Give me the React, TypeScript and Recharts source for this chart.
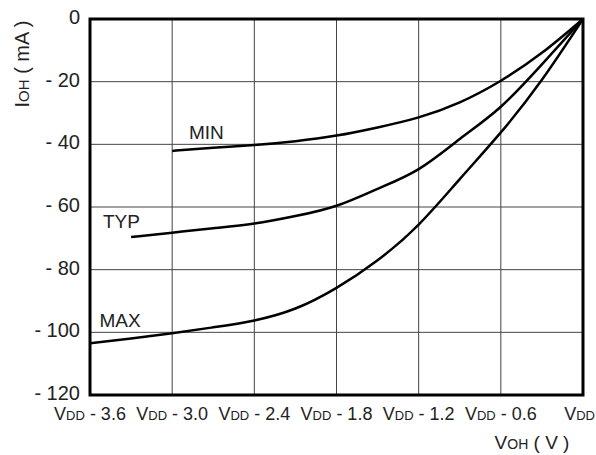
import React from 'react';
import { LineChart, Line, XAxis, YAxis, CartesianGrid, ReferenceArea, ReferenceDot } from 'recharts';

const voltages = [-3.6, -3.3, -3.0, -2.7, -2.4, -2.1, -1.8, -1.5, -1.2, -0.9, -0.6, -0.3, 0];
const minCurrent = [null, null, -42.1, -41.1, -40.2, -39.0, -37.2, -34.6, -31.4, -26.6, -19.7, -10.8, 0];
const typCurrent = [null, -69.6, -68.2, -66.8, -65.3, -62.9, -59.6, -54.2, -47.9, -38.3, -28.0, -14.5, 0];
const maxCurrent = [-103.5, -102.0, -100.3, -98.4, -96.2, -92.4, -85.8, -77.0, -65.6, -51.1, -36.2, -19.4, 0];

const xTicks = [-3.6, -3.0, -2.4, -1.8, -1.2, -0.6, 0];
const xTickSuffix = [' - 3.6', ' - 3.0', ' - 2.4', ' - 1.8', ' - 1.2', ' - 0.6', ''];
const yTicks = [0, -20, -40, -60, -80, -100, -120];
const yTickLabels = ['0', '- 20', '- 40', '- 60', '- 80', '- 100', '- 120'];

const seriesLabels = [
  { name: 'MIN', v: -2.75, i: -36 },
  { name: 'TYP', v: -3.37, i: -64.4 },
  { name: 'MAX', v: -3.38, i: -96 },
];

const data = voltages.map((v, k) => ({
  v,
  min: minCurrent[k],
  typ: typCurrent[k],
  max: maxCurrent[k],
}));

const FONT = 'Liberation Sans, Arial, Helvetica, sans-serif';
const COLOR = '#222';

const XTick = (props: any) => {
  const { x, y, payload } = props;
  const idx = xTicks.findIndex((t) => Math.abs(t - payload.value) < 1e-6);
  const last = idx === xTicks.length - 1;
  return (
    <text x={last ? 595 : x} y={y + 25} textAnchor={last ? 'end' : 'middle'} fontFamily={FONT} fontSize={18} fill={COLOR}>
      <tspan>V</tspan>
      <tspan fontSize={13}>DD</tspan>
      <tspan>{xTickSuffix[idx]}</tspan>
    </text>
  );
};

const YTick = (props: any) => {
  const { x, y, payload } = props;
  const idx = yTicks.findIndex((t) => Math.abs(t - payload.value) < 1e-6);
  return (
    <text x={x - 10} y={y + 5} textAnchor="end" fontFamily={FONT} fontSize={20} fill={COLOR}>
      {yTickLabels[idx]}
    </text>
  );
};

export default function App() {
  return (
    <div style={{ position: 'absolute', left: 0, top: 0, background: '#fff' }}>
      <LineChart width={596} height={455} data={data} margin={{ top: 19, right: 13, left: 0, bottom: 0 }}>
        <CartesianGrid stroke="#444" strokeWidth={1} />
        <XAxis
          dataKey="v"
          type="number"
          domain={[-3.6, 0]}
          ticks={xTicks}
          tick={<XTick />}
          tickLine={false}
          tickSize={0}
          tickMargin={0}
          axisLine={false}
          height={60}
          allowDataOverflow
        />
        <YAxis
          type="number"
          domain={[-120, 0]}
          ticks={yTicks}
          tick={<YTick />}
          tickLine={false}
          tickSize={0}
          tickMargin={0}
          axisLine={false}
          width={90}
          allowDataOverflow
        />
        <ReferenceArea x1={-3.6} x2={0} y1={-120} y2={0} fill="none" fillOpacity={0} stroke="#000" strokeWidth={3} ifOverflow="visible" />
        <Line dataKey="min" type="natural" stroke="#000" strokeWidth={2.5} dot={false} isAnimationActive={false} connectNulls={false} />
        <Line dataKey="typ" type="natural" stroke="#000" strokeWidth={2.5} dot={false} isAnimationActive={false} connectNulls={false} />
        <Line dataKey="max" type="natural" stroke="#000" strokeWidth={2.5} dot={false} isAnimationActive={false} connectNulls={false} />
        {seriesLabels.map((s) => (
          <ReferenceDot
            key={s.name}
            x={s.v}
            y={s.i}
            r={0}
            stroke="none"
            fill="none"
            ifOverflow="visible"
            label={(p: any) => (
              <text x={p.viewBox.cx ?? p.viewBox.x} y={(p.viewBox.cy ?? p.viewBox.y) + 7} textAnchor="middle" fontFamily={FONT} fontSize={19} fill={COLOR}>
                {s.name}
              </text>
            )}
          />
        ))}
      </LineChart>
      <svg width={596} height={455} style={{ position: 'absolute', left: 0, top: 0, pointerEvents: 'none' }}>
        <text transform="rotate(-90, 29, 64)" x={29} y={64} textAnchor="middle" fontFamily={FONT} fontSize={20} fill={COLOR}>
          <tspan>I</tspan>
          <tspan fontSize={15}>OH</tspan>
          <tspan> ( mA )</tspan>
        </text>
        <text x={532} y={449} textAnchor="middle" fontFamily={FONT} fontSize={19} fill={COLOR}>
          <tspan>V</tspan>
          <tspan fontSize={14}>OH</tspan>
          <tspan> ( V )</tspan>
        </text>
      </svg>
    </div>
  );
}
